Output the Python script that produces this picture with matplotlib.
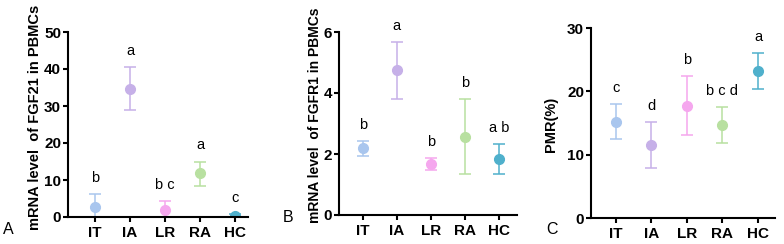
import matplotlib.pyplot as plt

plt.rcParams['font.family'] = ['Liberation Sans', 'DejaVu Sans']

groups = ["IT", "IA", "LR", "RA", "HC"]
colors = ["#a9c6ee", "#c6b0e8", "#f5a7ee", "#b8e0a0", "#4fb0cc"]

# panel A: FGF21
fgf21_mean = [2.6, 34.6, 1.8, 11.8, 0.4]
fgf21_lo = [0.0, 28.9, 0.0, 8.4, 0.1]
fgf21_hi = [6.2, 40.5, 4.3, 15.0, 0.7]
fgf21_sig = ["b", "a", "b c", "a", "c"]

# panel B: FGFR1
fgfr1_mean = [2.19, 4.74, 1.66, 2.57, 1.83]
fgfr1_lo = [1.92, 3.80, 1.46, 1.36, 1.35]
fgfr1_hi = [2.44, 5.67, 1.87, 3.79, 2.32]
fgfr1_sig = ["b", "a", "b", "b", "a b"]

# panel C: PMR
pmr_mean = [15.2, 11.5, 17.7, 14.7, 23.2]
pmr_lo = [12.4, 7.9, 13.05, 11.8, 20.4]
pmr_hi = [18.0, 15.1, 22.4, 17.6, 26.05]
pmr_sig = ["c", "d", "b", "b c d", "a"]

W, H = 784, 244
fig = plt.figure(figsize=(W / 100, H / 100), dpi=100)

panels = [
    # axes px (left, bottom, right, top), data, ylim, yticks, ylabel, xlim,
    # letter px, ylabel px (x, y), ylabel size
    ((68, 217, 248, 32), fgf21_mean, fgf21_lo, fgf21_hi, fgf21_sig,
     (0, 50), [0, 10, 20, 30, 40, 50], "mRNA level  of FGF21 in PBMCs", (-0.77, 4.37),
     (3, 230), (35, 117), 10.5),
    ((339, 215, 517, 32), fgfr1_mean, fgfr1_lo, fgfr1_hi, fgfr1_sig,
     (0, 6), [0, 2, 4, 6], "mRNA level  of FGFR1 in PBMCs", (-0.7, 4.53),
     (283, 217), (315, 115), 10),
    ((591, 218, 775, 28), pmr_mean, pmr_lo, pmr_hi, pmr_sig,
     (0, 30), [0, 10, 20, 30], "PMR(%)", (-0.7, 4.48),
     (546, 229), (551, 124), 10.5),
]

for k, (box, mean, lo, hi, sig, ylim, yticks, ylabel, xlim, lpos, ylpos, ylsize) in enumerate(panels):
    l, b, r, t = box
    ax = fig.add_axes([l / W, 1 - b / H, (r - l) / W, (b - t) / H])
    for i, g in enumerate(groups):
        ax.errorbar(i, mean[i], yerr=[[mean[i] - lo[i]], [hi[i] - mean[i]]],
                    fmt="o", color=colors[i], ms=7, elinewidth=1.1, capsize=4,
                    capthick=1.1, zorder=2)
        ax.annotate(sig[i], (i, hi[i]), xytext=(0, 6.5), textcoords="offset points",
                    ha="center", va="bottom", fontsize=10.5)
    ax.set_xlim(*xlim)
    ax.set_ylim(*ylim)
    ax.set_yticks(yticks)
    ax.set_xticks(range(len(groups)))
    ax.set_xticklabels(groups, fontweight="bold", fontsize=11)
    for tl in ax.get_yticklabels():
        tl.set_fontweight("bold")
        tl.set_fontsize(11)
    ax.spines["top"].set_visible(False)
    ax.spines["right"].set_visible(False)
    ax.spines["left"].set_linewidth(1.5)
    ax.spines["bottom"].set_linewidth(1.5)
    ax.tick_params(axis="both", width=1.5, length=3.5, pad=1.5)
    ax.tick_params(axis="x", pad=3)
    fig.text(ylpos[0] / W, 1 - ylpos[1] / H, ylabel, rotation=90, ha="center",
             va="center", fontweight="bold", fontsize=ylsize)
    fig.text(lpos[0] / W, 1 - lpos[1] / H, "ABC"[k], fontsize=11.5,
             ha="left", va="center")

fig.savefig("out.png", dpi=100)
